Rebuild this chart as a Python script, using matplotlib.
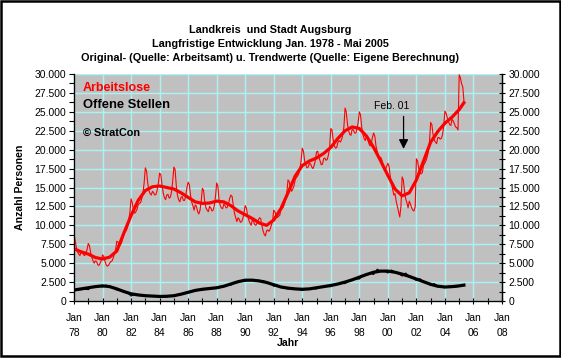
import matplotlib
matplotlib.use("Agg")
import matplotlib.pyplot as plt
from matplotlib.patches import Rectangle
import numpy as np

plt.rcParams['font.family'] = ['Liberation Sans', 'DejaVu Sans']

# ---------------- data ----------------
start_year = 1978
# Arbeitslose (original, monthly values Jan 1978 - May 2005)
arbeitslose_monthly = {
    1978: [8800, 8000, 7000, 6500, 6200, 6000, 6500, 6400, 6100, 6000, 6300, 6800],
    1979: [7600, 7300, 6400, 5800, 5300, 5000, 5300, 5200, 4800, 4700, 5000, 5400],
    1980: [6100, 5900, 5300, 4800, 4600, 4700, 5000, 5200, 5300, 5700, 6200, 6800],
    1981: [7900, 7800, 7500, 7400, 7700, 8300, 8800, 9200, 9300, 9800, 10600, 11700],
    1982: [13500, 13000, 12000, 11600, 11800, 12100, 12700, 12900, 13000, 13500, 14300, 15600],
    1983: [17600, 17200, 15600, 14600, 14200, 14000, 14500, 14300, 14000, 14100, 14700, 15600],
    1984: [16900, 16700, 15400, 14300, 13700, 13400, 14000, 14100, 13600, 13700, 14400, 15800],
    1985: [17700, 17400, 15300, 14000, 13400, 13100, 13700, 13800, 13300, 13300, 13900, 15000],
    1986: [15700, 15400, 14000, 13100, 12600, 12000, 12700, 12500, 11800, 11500, 12000, 13200],
    1987: [14900, 14600, 13000, 12300, 12000, 11800, 12500, 12300, 11900, 12000, 12600, 13800],
    1988: [15600, 15200, 13300, 12600, 12300, 12200, 12800, 12600, 12300, 12400, 12900, 13600],
    1989: [14000, 13800, 12600, 11600, 11000, 10500, 11000, 10800, 10400, 10500, 10900, 11700],
    1990: [12600, 12300, 11300, 10700, 10300, 10000, 10700, 10500, 10100, 10000, 10300, 10700],
    1991: [11000, 10900, 10000, 9300, 8800, 8600, 9300, 9400, 9200, 9500, 10000, 10500],
    1992: [12000, 11800, 11200, 11000, 11200, 11300, 12000, 12200, 12400, 12800, 13500, 14300],
    1993: [16000, 15800, 15000, 14500, 14800, 15200, 16000, 16300, 16500, 16800, 17500, 18500],
    1994: [20200, 19800, 18500, 18000, 17600, 17700, 18200, 18100, 17700, 17500, 17900, 18600],
    1995: [19700, 19800, 19000, 18500, 18000, 18100, 18800, 18900, 18600, 18700, 19300, 20300],
    1996: [22800, 22600, 21300, 20500, 20200, 20300, 21000, 21200, 21000, 21300, 21900, 23000],
    1997: [25500, 25000, 23400, 22500, 22000, 21900, 22700, 22600, 22200, 22200, 22700, 23600],
    1998: [25000, 24600, 23000, 22000, 21500, 21200, 21800, 21500, 20800, 20500, 20800, 21600],
    1999: [22200, 21800, 20500, 19800, 19200, 18600, 19000, 18600, 17800, 17300, 17400, 17800],
    2000: [18200, 17800, 16500, 15500, 14800, 14000, 14200, 13200, 12500, 11800, 11100, 12500],
    2001: [16400, 16000, 14500, 13500, 13000, 12300, 13200, 12800, 12300, 12000, 11900, 12500],
    2002: [18800, 18500, 17500, 16900, 16800, 17000, 17900, 18200, 18500, 19000, 19700, 21000],
    2003: [23600, 23300, 22000, 21300, 21000, 20800, 21600, 21600, 21400, 21500, 22000, 23200],
    2004: [25100, 24800, 24200, 23700, 23300, 23200, 24000, 23800, 23400, 23000, 22900, 22600],
    2005: [29900, 29500, 28700, 28300, 26400],
}

# Arbeitslose trend (half-yearly)
trend_al_x = [1978.0, 1978.5, 1979.0, 1979.5, 1980.0, 1980.5, 1981.0, 1981.5, 1982.0, 1982.5,
              1983.0, 1983.5, 1984.0, 1984.5, 1985.0, 1985.5, 1986.0, 1986.5, 1987.0, 1987.5,
              1988.0, 1988.5, 1989.0, 1989.5, 1990.0, 1990.5, 1991.0, 1991.5, 1992.0, 1992.5,
              1993.0, 1993.5, 1994.0, 1994.5, 1995.0, 1995.5, 1996.0, 1996.5, 1997.0, 1997.5,
              1998.0, 1998.5, 1999.0, 1999.5, 2000.0, 2000.5, 2001.0, 2001.5, 2002.0, 2002.5,
              2003.0, 2003.5, 2004.0, 2004.5, 2005.0, 2005.33]
trend_al_y = [6900, 6500, 6200, 5750, 5550, 5800, 6600, 9000, 11300, 13300,
              14600, 15100, 15200, 15000, 14800, 14300, 13700, 13100, 12900, 12950,
              13200, 13100, 12600, 11900, 11400, 10900, 10300, 10000, 10700, 12200,
              14300, 16500, 17900, 18500, 18900, 19500, 20300, 21500, 22500, 23000,
              22800, 21800, 20300, 18500, 16600, 14800, 13900, 14300, 16000, 18500,
              21000, 22400, 23500, 24300, 25300, 26200]

# Offene Stellen (original, quarterly readings Jan/Apr/Jul/Oct)
offene_quarterly = {
    1978: [1300, 1550, 1500, 1600], 1979: [1500, 1900, 1800, 1950],
    1980: [1850, 2100, 1950, 1750], 1981: [1450, 1400, 1250, 1100],
    1982: [650, 900, 800, 750], 1983: [600, 720, 650, 620],
    1984: [550, 650, 620, 640], 1985: [600, 800, 900, 1000],
    1986: [1050, 1250, 1400, 1450], 1987: [1450, 1600, 1650, 1650],
    1988: [1650, 1850, 1950, 2050], 1989: [2100, 2450, 2550, 2650],
    1990: [2600, 2850, 2750, 2700], 1991: [2550, 2700, 2450, 2350],
    1992: [1950, 2100, 1850, 1750], 1993: [1600, 1750, 1600, 1550],
    1994: [1400, 1650, 1600, 1650], 1995: [1600, 1850, 1900, 1950],
    1996: [1900, 2200, 2250, 2350], 1997: [2300, 2700, 2800, 2950],
    1998: [2900, 3400, 3500, 3700], 1999: [3500, 4200, 3950, 4000],
    2000: [3700, 4100, 3800, 3600], 2001: [3300, 3700, 3200, 3050],
    2002: [2700, 2950, 2550, 2400], 2003: [2050, 2300, 1950, 1850],
    2004: [1750, 1950, 1850, 1850], 2005: [1950, 2150],
}

# Offene Stellen trend (half-yearly)
trend_os_y = [1450, 1600, 1750, 1900, 2000, 1900, 1600, 1250, 950, 800,
              700, 650, 600, 620, 700, 900, 1150, 1400, 1550, 1650,
              1750, 1950, 2250, 2550, 2750, 2750, 2650, 2450, 2150, 1850,
              1700, 1600, 1550, 1600, 1750, 1900, 2050, 2250, 2500, 2800,
              3150, 3500, 3800, 3950, 3950, 3800, 3550, 3250, 2900, 2550,
              2200, 1950, 1850, 1900, 2000, 2100]

y_ticks = [0, 2500, 5000, 7500, 10000, 12500, 15000, 17500, 20000, 22500, 25000, 27500, 30000]
y_labels = ["0", "2.500", "5.000", "7.500", "10.000", "12.500", "15.000", "17.500",
            "20.000", "22.500", "25.000", "27.500", "30.000"]
x_ticks = list(range(1978, 2009, 2))
x_labels = ["Jan\n%02d" % (y % 100) for y in x_ticks]

# ---------------- build series ----------------
al_x, al_y = [], []
for yr, vals in arbeitslose_monthly.items():
    for m, v in enumerate(vals):
        al_x.append(yr + m / 12.0)
        al_y.append(v)
os_x, os_y = [], []
for yr, vals in offene_quarterly.items():
    for q, v in enumerate(vals):
        os_x.append(yr + q * 0.25)
        os_y.append(v)

# ---------------- figure ----------------
W, H = 561, 358
fig = plt.figure(figsize=(W / 100, H / 100), dpi=100)
fig.patch.set_facecolor('white')
fig.patches.append(Rectangle((1 / W, 2 / H), (W - 2) / W, (H - 3) / H,
                             transform=fig.transFigure, fill=False,
                             ec='black', lw=1.8))

L, R, T, B = 74, 502, 74, 301
ax = fig.add_axes([L / W, 1 - B / H, (R - L) / W, (B - T) / H])
ax.set_facecolor('#c0c0c0')
ax.set_xlim(1978, 2008)
ax.set_ylim(0, 30000)

grid_c = '#a8f4f4'
ax.set_xticks(x_ticks)
ax.set_xticklabels(x_labels, fontsize=7.5, linespacing=1.6)
ax.set_xticks(range(1978, 2009), minor=True)
ax.set_yticks(y_ticks)
ax.set_yticklabels(y_labels, fontsize=7.5)
ax.set_yticks(np.arange(0, 30001, 1250), minor=True)
ax.grid(True, which='major', color=grid_c, lw=1.0)
ax.set_axisbelow(True)

ax.tick_params(axis='x', which='both', direction='inout', length=5, width=0.8, pad=6)
ax.tick_params(axis='y', which='both', direction='out', length=3.5, width=0.8, pad=2)
for s in ['left', 'bottom', 'right']:
    ax.spines[s].set_color('black')
    ax.spines[s].set_linewidth(0.9)
ax.spines['top'].set_visible(False)

ax2 = ax.twinx()
ax2.set_ylim(0, 30000)
ax2.set_yticks(y_ticks)
ax2.set_yticklabels(y_labels, fontsize=7.5)
ax2.set_yticks(np.arange(0, 30001, 1250), minor=True)
ax2.tick_params(axis='y', which='both', direction='inout', length=5, width=0.8, pad=2)
ax2.spines['top'].set_visible(False)
ax2.spines['right'].set_linewidth(0.9)

# lines
ax.plot(os_x, os_y, color='black', lw=0.8, zorder=3)
ax.plot(trend_al_x, trend_os_y, color='black', lw=2.3, zorder=4)
ax.plot(al_x, al_y, color='#ff0000', lw=0.8, zorder=5)
ax.plot(trend_al_x, trend_al_y, color='#ff0000', lw=2.3, zorder=6)

# legend-like texts
ax.text(1978.63, 28150, 'Arbeitslose', color='#ff0000', fontsize=9, fontweight='bold',
        va='center', ha='left')
ax.text(1978.63, 25900, 'Offene Stellen', color='black', fontsize=9.3, fontweight='bold',
        va='center', ha='left')
ax.text(1978.63, 22200, '\u00a9 StratCon', color='black', fontsize=7.8, fontweight='bold',
        va='center', ha='left')

# annotation
ax.text(2000.3, 25800, 'Feb. 01', fontsize=7.5, ha='center', va='center')
ax.annotate('', xy=(2001.1, 20100), xytext=(2001.1, 24400),
            arrowprops=dict(arrowstyle='-|>', color='black', lw=0.9,
                            mutation_scale=14, shrinkA=0, shrinkB=0))

# titles
tfs = 7.85
fig.text(270 / W, 1 - 30 / H, 'Landkreis  und Stadt Augsburg', fontsize=tfs,
         fontweight='bold', ha='center', va='center')
fig.text(270 / W, 1 - 44 / H, 'Langfristige Entwicklung Jan. 1978 - Mai 2005', fontsize=tfs,
         fontweight='bold', ha='center', va='center')
fig.text(270 / W, 1 - 58 / H,
         'Original- (Quelle: Arbeitsamt) u. Trendwerte (Quelle: Eigene Berechnung)',
         fontsize=tfs, fontweight='bold', ha='center', va='center')

fig.text(20 / W, 1 - 187 / H, 'Anzahl Personen', fontsize=7.6, fontweight='bold',
         rotation=90, ha='center', va='center')
fig.text(288 / W, 1 - 343 / H, 'Jahr', fontsize=7.6, fontweight='bold',
         ha='center', va='center')

fig.savefig('out.png', dpi=100)
